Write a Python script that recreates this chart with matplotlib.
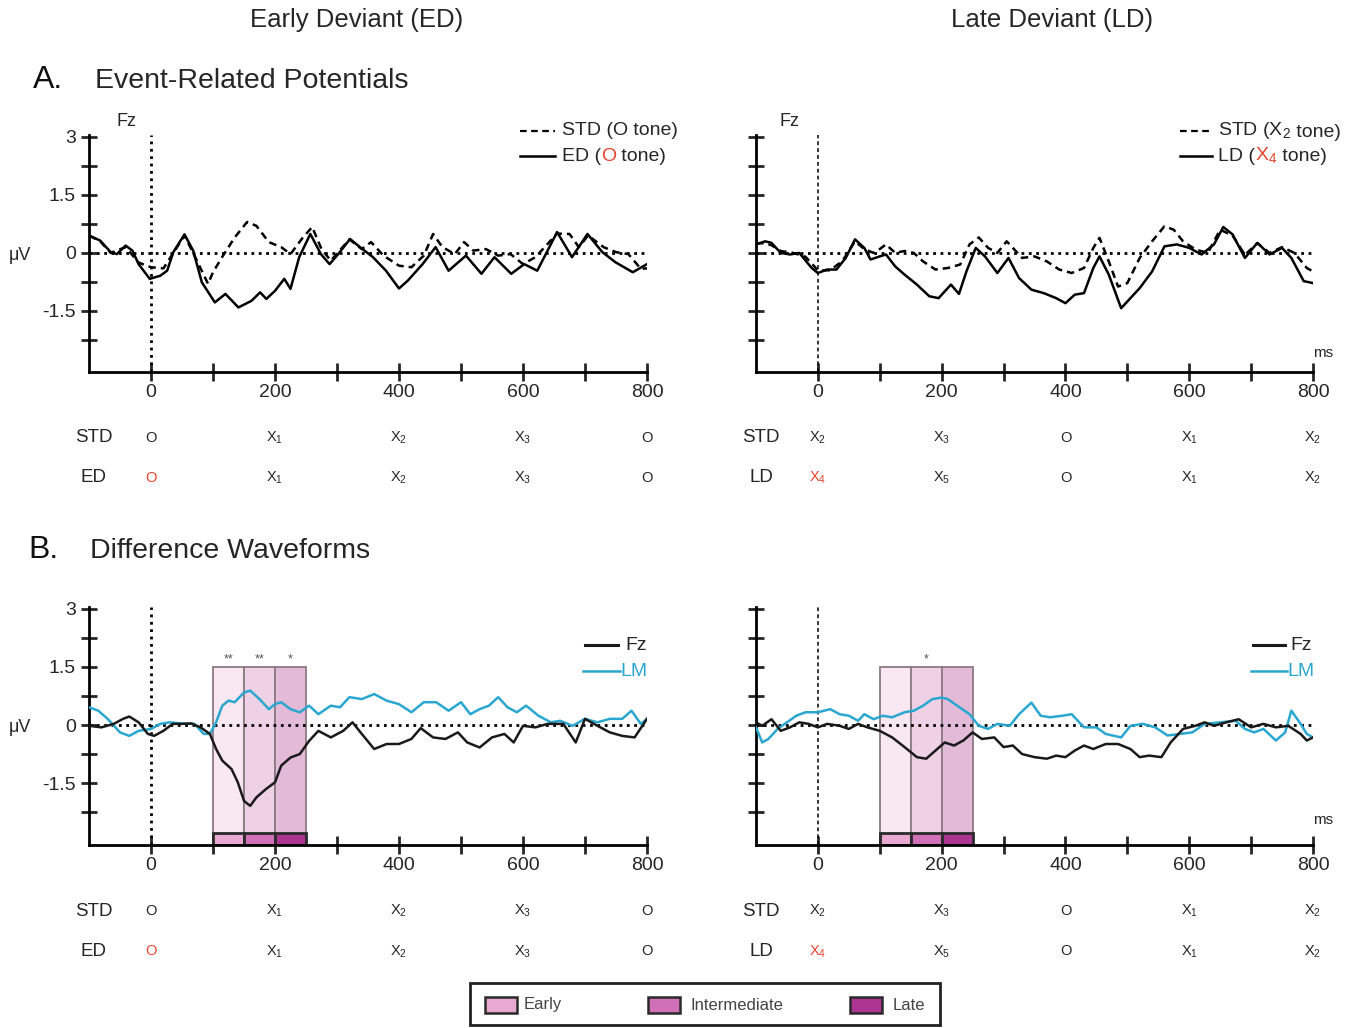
"""
ERP figure: early vs late deviant, event-related potentials (A) and
difference waveforms (B) at Fz / LM.
"""

import matplotlib
matplotlib.use("Agg")
import matplotlib.pyplot as plt
from matplotlib.patches import Rectangle
from matplotlib.transforms import blended_transform_factory

plt.rcParams['font.family'] = ['Liberation Sans', 'DejaVu Sans']
plt.rcParams['mathtext.default'] = 'regular'

W, H = 1353, 1028

# ---- axis ticks ----
x_ticks = [0, 100, 200, 300, 400, 500, 600, 700, 800]
x_ticklabels = ['0', '', '200', '', '400', '', '600', '', '800']
y_major = [3, 1.5, 0, -1.5]
y_major_labels = ['3', '1.5', '0', '-1.5']
y_minor = [2.25, 0.75, -0.75, -2.25]

# ---- A. ERPs, early deviant (Fz) ----
ed_t = [-100, -82, -65, -55, -41, -30, -20, -2, 15, 26,
        36, 54, 68, 82, 103, 120, 141, 162, 176, 186,
        200, 215, 225, 239, 257, 274, 288, 302, 321, 337,
        358, 379, 400, 414, 438, 459, 480, 508, 533, 554,
        581, 602, 623, 655, 679, 704, 728, 749, 777, 800]
ed_v = [0.45, 0.32, 0.02, -0.03, 0.19, 0.06, -0.29, -0.67, -0.59, -0.46,
        0.02, 0.48, 0.06, -0.76, -1.28, -1.06, -1.41, -1.24, -1.02, -1.19,
        -0.98, -0.67, -0.93, -0.11, 0.49, -0.03, -0.29, -0.03, 0.36, 0.15,
        -0.11, -0.46, -0.92, -0.72, -0.29, 0.15, -0.46, -0.07, -0.54, -0.11,
        -0.54, -0.29, -0.46, 0.54, -0.11, 0.49, 0.02, -0.24, -0.50, -0.29]

std_o_t = [-100, -82, -65, -41, -20, 0, 20, 36, 54, 68,
           92, 100, 115, 135, 155, 170, 190, 210, 225, 245,
           260, 275, 290, 320, 340, 355, 375, 400, 420, 440,
           455, 470, 490, 505, 520, 540, 560, 580, 600, 620,
           655, 675, 690, 705, 730, 750, 770, 790, 800]
std_o_v = [0.45, 0.30, 0.0, 0.15, -0.25, -0.37, -0.40, 0.0, 0.45, 0.0,
           -0.80, -0.50, -0.10, 0.40, 0.80, 0.70, 0.28, 0.15, -0.03, 0.40,
           0.67, 0.10, -0.20, 0.35, 0.10, 0.28, -0.07, -0.33, -0.37, -0.07,
           0.49, 0.15, -0.03, 0.28, 0.06, 0.10, -0.07, -0.03, -0.29, -0.11,
           0.50, 0.49, 0.15, 0.45, 0.15, 0.02, -0.03, -0.41, -0.40]

# ---- A. ERPs, late deviant (Fz) ----
ld_t = [-100, -85, -75, -60, -45, -30, -10, 0, 15, 30,
        45, 60, 75, 85, 100, 110, 125, 140, 160, 180,
        195, 215, 228, 240, 255, 270, 290, 308, 325, 345,
        365, 385, 400, 415, 430, 445, 455, 470, 490, 505,
        520, 540, 560, 580, 600, 620, 640, 655, 670, 690,
        710, 730, 750, 765, 785, 800]
ld_v = [0.22, 0.30, 0.26, 0.0, -0.04, 0.0, -0.39, -0.52, -0.43, -0.43,
        -0.13, 0.35, 0.13, -0.17, -0.09, -0.04, -0.35, -0.56, -0.82, -1.12,
        -1.17, -0.82, -1.06, -0.48, 0.13, -0.09, -0.52, -0.13, -0.65, -0.95,
        -1.04, -1.17, -1.30, -1.08, -1.04, -0.39, -0.09, -0.56, -1.43, -1.17,
        -0.91, -0.48, 0.17, 0.22, 0.13, -0.04, 0.22, 0.67, 0.48, -0.13,
        0.26, -0.04, 0.13, -0.13, -0.73, -0.78]

std_x2_t = [-100, -85, -75, -60, -40, -20, 0, 20, 40, 60,
            75, 90, 100, 110, 125, 140, 155, 170, 190, 210,
            230, 245, 260, 275, 290, 305, 315, 330, 350, 370,
            390, 410, 430, 445, 455, 470, 485, 500, 520, 540,
            560, 575, 590, 610, 630, 650, 670, 690, 710, 730,
            750, 770, 790, 800]
std_x2_v = [0.25, 0.25, 0.20, 0.05, 0.0, -0.10, -0.45, -0.45, -0.20, 0.30,
            0.10, 0.0, 0.10, 0.22, 0.0, 0.05, 0.0, -0.22, -0.43, -0.39,
            -0.30, 0.22, 0.40, 0.13, 0.0, 0.30, 0.13, -0.13, -0.09, -0.22,
            -0.43, -0.52, -0.39, 0.13, 0.39, -0.22, -0.87, -0.78, -0.13, 0.30,
            0.69, 0.60, 0.30, 0.09, 0.0, 0.60, 0.45, -0.05, 0.25, 0.0,
            0.15, 0.0, -0.39, -0.48]

# ---- B. difference waves, early deviant ----
ed_fz_t = [-100, -80, -60, -45, -35, -20, -5, 5, 20, 35,
           50, 65, 80, 95, 105, 115, 130, 140, 150, 160,
           170, 185, 200, 210, 225, 240, 255, 270, 290, 310,
           325, 340, 360, 380, 400, 420, 435, 455, 475, 495,
           510, 530, 550, 570, 585, 600, 620, 640, 665, 685,
           700, 720, 740, 760, 780, 800]
ed_fz_v = [-0.02, -0.06, 0.03, 0.16, 0.22, 0.07, -0.23, -0.28, -0.15, 0.03,
           0.03, 0.04, -0.06, -0.23, -0.62, -0.92, -1.14, -1.48, -1.96, -2.09,
           -1.87, -1.66, -1.48, -1.05, -0.84, -0.75, -0.41, -0.15, -0.32, -0.15,
           0.07, -0.23, -0.62, -0.49, -0.49, -0.36, -0.08, -0.32, -0.36, -0.19,
           -0.45, -0.58, -0.32, -0.23, -0.45, -0.02, -0.06, 0.03, 0.03, -0.45,
           0.16, -0.02, -0.19, -0.28, -0.32, 0.16]

ed_lm_t = [-100, -85, -70, -50, -35, -20, 0, 15, 30, 50,
           70, 85, 95, 105, 115, 125, 135, 150, 160, 175,
           190, 200, 210, 225, 240, 255, 270, 290, 305, 320,
           340, 360, 380, 400, 420, 440, 460, 480, 500, 515,
           530, 545, 560, 575, 590, 605, 625, 645, 660, 680,
           700, 720, 740, 760, 775, 790, 800]
ed_lm_v = [0.46, 0.37, 0.16, -0.19, -0.28, -0.15, -0.10, 0.03, 0.07, 0.04,
           0.03, -0.23, -0.23, 0.07, 0.50, 0.63, 0.59, 0.84, 0.89, 0.67,
           0.41, 0.54, 0.59, 0.41, 0.33, 0.50, 0.28, 0.50, 0.46, 0.72,
           0.67, 0.80, 0.63, 0.54, 0.33, 0.59, 0.59, 0.37, 0.59, 0.28,
           0.41, 0.50, 0.72, 0.46, 0.33, 0.50, 0.24, 0.07, 0.11, -0.02,
           0.16, 0.07, 0.16, 0.16, 0.37, 0.03, 0.16]

# ---- B. difference waves, late deviant ----
ld_fz_t = [-100, -90, -75, -60, -45, -30, -15, 0, 15, 35,
           50, 65, 80, 100, 120, 140, 160, 175, 190, 205,
           220, 235, 250, 265, 285, 300, 315, 330, 350, 370,
           385, 400, 415, 430, 445, 465, 485, 505, 520, 535,
           555, 570, 590, 610, 625, 640, 660, 680, 700, 720,
           740, 760, 780, 790, 800]
ld_fz_v = [0.07, -0.02, 0.15, -0.15, -0.06, 0.07, 0.03, -0.06, 0.03, -0.02,
           -0.10, 0.03, -0.06, -0.15, -0.32, -0.57, -0.83, -0.87, -0.66, -0.45,
           -0.53, -0.40, -0.19, -0.36, -0.32, -0.57, -0.53, -0.75, -0.83, -0.87,
           -0.79, -0.83, -0.66, -0.53, -0.62, -0.49, -0.49, -0.62, -0.83, -0.79,
           -0.83, -0.45, -0.10, -0.02, 0.07, -0.02, 0.07, 0.15, -0.06, 0.03,
           -0.06, -0.02, -0.23, -0.40, -0.32]

ld_lm_t = [-100, -90, -80, -65, -50, -35, -20, 0, 20, 35,
           50, 65, 75, 90, 105, 120, 140, 155, 170, 185,
           200, 210, 225, 245, 260, 275, 290, 310, 325, 345,
           360, 375, 395, 410, 430, 450, 465, 490, 505, 525,
           545, 565, 585, 605, 625, 650, 675, 690, 705, 720,
           740, 755, 765, 780, 790, 800]
ld_lm_v = [-0.06, -0.45, -0.36, -0.10, 0.07, 0.24, 0.33, 0.33, 0.41, 0.28,
           0.24, 0.11, 0.28, 0.15, 0.24, 0.20, 0.33, 0.37, 0.50, 0.67,
           0.71, 0.67, 0.50, 0.28, -0.02, -0.10, 0.03, -0.02, 0.28, 0.58,
           0.24, 0.20, 0.24, 0.28, -0.06, -0.06, -0.23, -0.32, -0.02, 0.03,
           -0.06, -0.27, -0.23, -0.19, 0.03, 0.07, 0.11, -0.10, -0.19, -0.10,
           -0.40, -0.19, 0.37, 0.03, -0.23, -0.32]

# ---- analysis windows (ms) ----
win_names = ['Early', 'Intermediate', 'Late']
win_start = [100, 150, 200]
win_width = [50, 50, 50]
win_top = 1.5
win_strip_top = -2.79
win_fill = ['#f9e7f1', '#efd1e5', '#e3bad7']
win_strip = ['#e9a8d1', '#d070b6', '#ad3592']
ed_sig = ['**', '**', '*']
ld_sig = ['', '*', '']

# ---- tone sequences under each panel ----
tone_pos = [0, 200, 400, 600, 800]
ed_std_tones = ['O', 'X$_1$', 'X$_2$', 'X$_3$', 'O']
ed_dev_tones = ['O', 'X$_1$', 'X$_2$', 'X$_3$', 'O']
ld_std_tones = ['X$_2$', 'X$_3$', 'O', 'X$_1$', 'X$_2$']
ld_dev_tones = ['X$_4$', 'X$_5$', 'O', 'X$_1$', 'X$_2$']

RED = '#e4452c'
CYAN = '#2aa7d0'
TXT = '#262626'


def px_box(x0, y_top, x1, y_bottom):
    return [x0 / W, 1 - y_bottom / H, (x1 - x0) / W, (y_bottom - y_top) / H]


def style_axes(ax, ylow, ylabels, vline_style):
    ax.set_xlim(-100, 800)
    ax.set_ylim(ylow, 3.05)
    for side in ('top', 'right'):
        ax.spines[side].set_visible(False)
    for side in ('left', 'bottom'):
        ax.spines[side].set_linewidth(2)
    ax.set_xticks(x_ticks)
    ax.set_xticklabels(x_ticklabels)
    ax.set_yticks(y_major)
    ax.set_yticklabels(y_major_labels if ylabels else [''] * len(y_major))
    ax.set_yticks(y_minor, minor=True)
    ax.tick_params(axis='x', direction='inout', length=13, width=2,
                   pad=2, labelsize=14, colors=TXT)
    ax.tick_params(axis='y', which='both', direction='inout', length=11,
                   width=2, pad=4, labelsize=14, colors=TXT)
    ax.patch.set_alpha(0)
    # baseline and stimulus onset
    ax.axhline(0, color='black', lw=2, ls=':', zorder=3)
    if vline_style == 'bold':
        ax.axvline(0, color='black', lw=2, ls=':', zorder=3)
    else:
        ax.axvline(0, color='black', lw=1.1, dashes=(2.5, 2), zorder=3)


def tone_rows(ax, label, std_tones, dev_tones):
    tr = blended_transform_factory(ax.transData, ax.transAxes)
    ax.text(-92, -0.278, 'STD', transform=tr, ha='center', va='center',
            fontsize=13.5, color=TXT)
    ax.text(-92, -0.447, label, transform=tr, ha='center', va='center',
            fontsize=13.5, color=TXT)
    for i, (pos, s, d) in enumerate(zip(tone_pos, std_tones, dev_tones)):
        ax.text(pos, -0.278, s, transform=tr, ha='center', va='center',
                fontsize=10.5, color=TXT)
        ax.text(pos, -0.447, d, transform=tr, ha='center', va='center',
                fontsize=10.5, color=RED if i == 0 else TXT)


def put_pieces(ax, x, y, pieces, size):
    """Text made of differently coloured pieces, laid left to right."""
    t = ax.text(x, y, pieces[0][0], color=pieces[0][1], fontsize=size,
                transform=ax.transAxes, ha='left', va='center')
    for s, c in pieces[1:]:
        t = ax.annotate(s, xy=(1, 0), xycoords=t, color=c, fontsize=size,
                        ha='left', va='bottom')
    return t


def draw_windows(ax, ylow, sig):
    ax.bar(win_start, [win_top - ylow] * 3, width=win_width, bottom=ylow,
           align='edge', color=win_fill, edgecolor='#8c7a83', lw=1.3, zorder=1)
    ax.bar(win_start, [win_strip_top - ylow] * 3, width=win_width,
           bottom=ylow, align='edge', color=win_strip, edgecolor='#2a2a2a',
           lw=2, zorder=2)
    for x0, w, s in zip(win_start, win_width, sig):
        ax.text(x0 + w / 2, win_top + 0.05, s, ha='center', va='bottom',
                fontsize=9, color='#555555')


fig = plt.figure(figsize=(W / 100, H / 100), dpi=100)

ax_a_ed = fig.add_axes(px_box(89, 135, 647, 372))
ax_a_ld = fig.add_axes(px_box(756, 135, 1313, 372))
ax_b_ed = fig.add_axes(px_box(89, 607, 647, 845))
ax_b_ld = fig.add_axes(px_box(756, 607, 1313, 845))

style_axes(ax_a_ed, -3.08, True, 'bold')
style_axes(ax_a_ld, -3.08, False, 'thin')
style_axes(ax_b_ed, -3.1, True, 'bold')
style_axes(ax_b_ld, -3.1, False, 'thin')

# A. ERPs
ax_a_ed.plot(std_o_t, std_o_v, color='black', lw=1.8, dashes=(3, 2), zorder=4)
ax_a_ed.plot(ed_t, ed_v, color='black', lw=1.8, zorder=5)
ax_a_ld.plot(std_x2_t, std_x2_v, color='black', lw=1.8, dashes=(3, 2), zorder=4)
ax_a_ld.plot(ld_t, ld_v, color='black', lw=1.8, zorder=5)

# B. difference waves
draw_windows(ax_b_ed, -3.1, ed_sig)
draw_windows(ax_b_ld, -3.1, ld_sig)
ax_b_ed.plot(ed_lm_t, ed_lm_v, color=CYAN, lw=1.8, zorder=4)
ax_b_ed.plot(ed_fz_t, ed_fz_v, color='#1a1a1a', lw=1.8, zorder=5)
ax_b_ld.plot(ld_lm_t, ld_lm_v, color=CYAN, lw=1.8, zorder=4)
ax_b_ld.plot(ld_fz_t, ld_fz_v, color='#1a1a1a', lw=1.8, zorder=5)

# legends inside panels
for ax, x0, x1, xt, dev_label, std_tone, dev_tone in [
        (ax_a_ed, 0.772, 0.835, 0.848, 'ED (', 'O', 'O'),
        (ax_a_ld, 0.761, 0.819, 0.829, 'LD (', 'X$_2$', 'X$_4$')]:
    ax.plot([x0, x1], [1.017, 1.017], transform=ax.transAxes, color='black',
            lw=1.6, dashes=(3, 2), clip_on=False)
    ax.plot([x0, x1], [0.911, 0.911], transform=ax.transAxes, color='black',
            lw=1.8, clip_on=False)
    put_pieces(ax, xt, 1.017, [('STD (' + std_tone, TXT), (' tone)', TXT)], 14)
    put_pieces(ax, xt, 0.911, [(dev_label, TXT), (dev_tone, RED),
                               (' tone)', TXT)], 14)

for ax, x0, x1, xt in [(ax_b_ed, 0.889, 0.948, 0.961),
                       (ax_b_ld, 0.892, 0.950, 0.959)]:
    ax.plot([x0, x1], [0.840, 0.840], transform=ax.transAxes,
            color='#1a1a1a', lw=2.2, clip_on=False)
    ax.text(xt, 0.840, 'Fz', transform=ax.transAxes, ha='left', va='center',
            fontsize=14, color=TXT)
    ax.plot([x0 - 0.003, x1 + 0.004], [0.731, 0.731], transform=ax.transAxes,
            color=CYAN, lw=1.8, clip_on=False)
    ax.text(x1 + 0.004, 0.731, 'LM', transform=ax.transAxes, ha='left',
            va='center', fontsize=14, color=CYAN)

# electrode / unit labels
ax_a_ed.text(0.068, 1.059, 'Fz', transform=ax_a_ed.transAxes, ha='center',
             va='center', fontsize=13, color=TXT)
ax_a_ld.text(0.061, 1.059, 'Fz', transform=ax_a_ld.transAxes, ha='center',
             va='center', fontsize=13, color=TXT)
ax_a_ld.text(1.018, 0.08, 'ms', transform=ax_a_ld.transAxes, ha='center',
             va='center', fontsize=11, color=TXT)
ax_b_ld.text(1.018, 0.105, 'ms', transform=ax_b_ld.transAxes, ha='center',
             va='center', fontsize=11, color=TXT)
fig.text(20 / W, 1 - 255 / H, 'μV', ha='center', va='center', fontsize=13,
         color=TXT)
fig.text(20 / W, 1 - 727 / H, 'μV', ha='center', va='center', fontsize=13,
         color=TXT)

# tone sequences
for ax in (ax_a_ed, ax_b_ed):
    tone_rows(ax, 'ED', ed_std_tones, ed_dev_tones)
for ax in (ax_a_ld, ax_b_ld):
    tone_rows(ax, 'LD', ld_std_tones, ld_dev_tones)

# column and section titles
fig.text(357 / W, 1 - 20 / H, 'Early Deviant (ED)', ha='center', va='center',
         fontsize=18.5, color=TXT)
fig.text(1052 / W, 1 - 20 / H, 'Late Deviant (LD)', ha='center', va='center',
         fontsize=18.5, color=TXT)
fig.text(33 / W, 1 - 80 / H, 'A.', ha='left', va='center', fontsize=23,
         color='#111111')
fig.text(95 / W, 1 - 81 / H, 'Event-Related Potentials', ha='left',
         va='center', fontsize=20.5, color=TXT)
fig.text(28 / W, 1 - 550 / H, 'B.', ha='left', va='center', fontsize=23,
         color='#111111')
fig.text(90 / W, 1 - 551 / H, 'Difference Waveforms', ha='left', va='center',
         fontsize=20.5, color=TXT)

# window legend at the bottom
fig.patches.append(Rectangle((470 / W, 1 - 1025 / H), 470 / W, 42 / H,
                             transform=fig.transFigure, facecolor='white',
                             edgecolor='#222222', lw=2))
for name, color, xp, xt in zip(win_names, win_strip, [485, 648, 850],
                               [524, 690, 893]):
    fig.patches.append(Rectangle((xp / W, 1 - 1013 / H), 32 / W, 16 / H,
                                 transform=fig.transFigure, facecolor=color,
                                 edgecolor='#2a2a2a', lw=1.8))
    fig.text(xt / W, 1 - 1005 / H, name, ha='left', va='center', fontsize=12,
             color='#444444')

fig.savefig('out.png', dpi=100)
